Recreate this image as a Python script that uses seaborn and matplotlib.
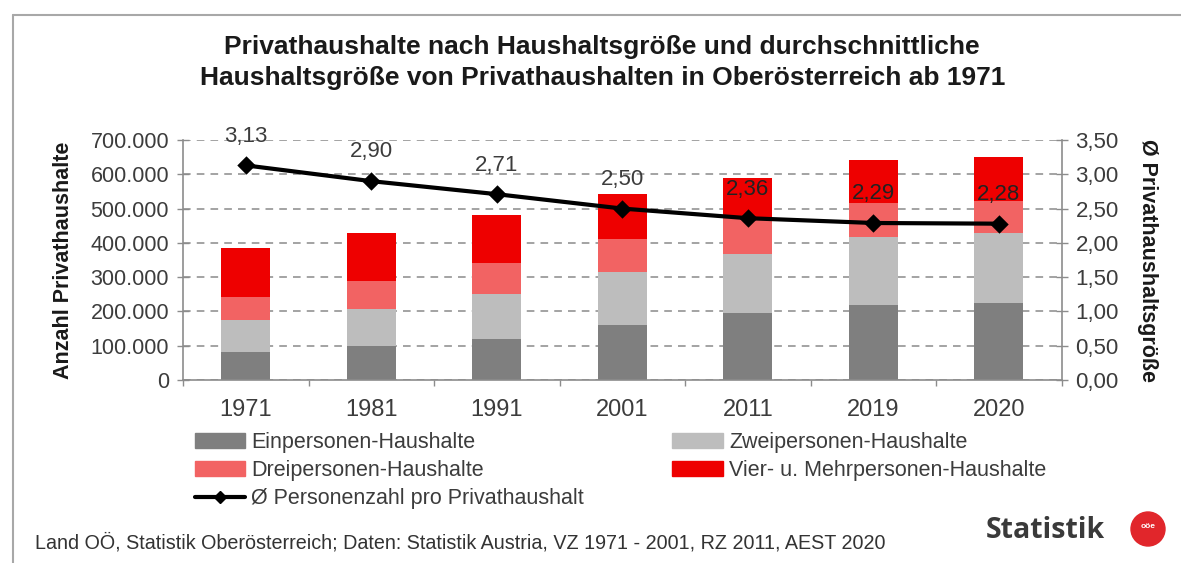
import numpy as np
import pandas as pd
import matplotlib
matplotlib.use("Agg")
import matplotlib.pyplot as plt
import seaborn as sns
from matplotlib.patches import Patch, Ellipse
from matplotlib.lines import Line2D
from matplotlib.ticker import FuncFormatter, MultipleLocator

# ---- data ----
years = ["1971", "1981", "1991", "2001", "2011", "2019", "2020"]
einpersonen = [81000, 100000, 119000, 161000, 195000, 219000, 224000]
zweipersonen = [94000, 108000, 132000, 153000, 174000, 199000, 204000]
dreipersonen = [66000, 82000, 91000, 96000, 107000, 99000, 95000]
vierpersonen = [145000, 140000, 140000, 133000, 112000, 125000, 127000]
avg_size = [3.13, 2.90, 2.71, 2.50, 2.36, 2.29, 2.28]

series_names = ["Einpersonen-Haushalte", "Zweipersonen-Haushalte",
                "Dreipersonen-Haushalte", "Vier- u. Mehrpersonen-Haushalte"]
line_name = "Ø Personenzahl pro Privathaushalt"
colors = ["#7f7f7f", "#bdbdbd", "#f26363", "#ee0000"]

title_lines = ["Privathaushalte nach Haushaltsgröße und durchschnittliche",
               "Haushaltsgröße von Privathaushalten in Oberösterreich ab 1971"]
ylabel_left = "Anzahl Privathaushalte"
ylabel_right = "Ø Privathaushaltsgröße"
source = "Land OÖ, Statistik Oberösterreich; Daten: Statistik Austria, VZ 1971 - 2001, RZ 2011, AEST 2020"

# ---- style ----
sns.set_theme(style="white")
plt.rcParams['font.family'] = ['Liberation Sans', 'DejaVu Sans']
txt = "#3c3c3c"

fig = plt.figure(figsize=(11.81, 5.63), dpi=100)
ax = fig.add_axes([0.155, 0.325, 0.744, 0.4263])

df = pd.DataFrame({"year": years, "ein": einpersonen, "zwei": zweipersonen,
                   "drei": dreipersonen, "vier": vierpersonen})
layers = ["ein", "zwei", "drei", "vier"]
cum = df[layers].cumsum(axis=1)

# draw from tallest cumulative to smallest so stacks appear
for key, col in reversed(list(zip(layers, colors))):
    sns.barplot(x=df["year"], y=cum[key], color=col, ax=ax, width=0.39,
                saturation=1, edgecolor="none", linewidth=0)

ax.set_ylim(0, 700000)
ax.set_xlim(-0.5, 6.5)
ax.yaxis.set_major_locator(MultipleLocator(100000))
ax.yaxis.set_major_formatter(FuncFormatter(lambda v, p: f"{int(v):,}".replace(",", ".")))
ax.grid(axis="y", color="#8a8a8a", linestyle=(0, (5, 4)), linewidth=1.1)
ax.set_axisbelow(True)
ax.set_xlabel("")
ax.set_ylabel(ylabel_left, fontsize=15.5, fontweight="bold", color="#1a1a1a", labelpad=12)

for s in ["top", "right"]:
    ax.spines[s].set_visible(False)
for s in ["left", "bottom"]:
    ax.spines[s].set_color("#8c8c8c")
    ax.spines[s].set_linewidth(1.2)

ax.tick_params(axis="y", which="major", direction="inout", length=8, width=1,
               color="#8c8c8c", labelsize=15.5, labelcolor=txt, pad=6, left=True)
ax.tick_params(axis="x", which="major", length=0, labelsize=17, labelcolor=txt, pad=14)
ax.set_xticks(np.arange(-0.5, 7, 1.0), minor=True)
ax.tick_params(axis="x", which="minor", direction="out", length=4, width=1,
               color="#8c8c8c", bottom=True)

# ---- secondary axis ----
ax2 = ax.twinx()
sns.pointplot(x=years, y=avg_size, ax=ax2, color="black", markers="D",
              markersize=7, linewidth=3, linestyles="-", errorbar=None)
ax2.set_ylim(0, 3.5)
ax2.set_xlim(-0.5, 6.5)
ax2.yaxis.set_major_locator(MultipleLocator(0.5))
ax2.yaxis.set_major_formatter(FuncFormatter(lambda v, p: f"{v:.2f}".replace(".", ",")))
for s in ["top", "left", "bottom"]:
    ax2.spines[s].set_visible(False)
ax2.spines["right"].set_color("#8c8c8c")
ax2.spines["right"].set_linewidth(1.2)
ax2.tick_params(axis="y", direction="inout", length=8, width=1, color="#8c8c8c",
                labelsize=16, labelcolor=txt, pad=6, right=True)
ax2.set_ylabel(ylabel_right, fontsize=15.5, fontweight="bold", color="#1a1a1a",
               rotation=270, labelpad=28)
ax2.grid(False)

for i, v in enumerate(avg_size):
    c = "#222222" if i >= 4 else txt
    ax2.annotate(f"{v:.2f}".replace(".", ","), (i, v), xytext=(0, 21),
                 textcoords="offset points", ha="center", va="center",
                 fontsize=16, color=c)

# ---- title (two lines placed individually) ----
fig.text(0.51, 1 - 47 / 563, title_lines[0], ha="center", va="center", fontsize=19,
         fontweight="bold", color="#1a1a1a")
fig.text(0.51, 1 - 78 / 563, title_lines[1], ha="center", va="center", fontsize=19,
         fontweight="bold", color="#1a1a1a")

# ---- legend ----
handles = [Patch(color=colors[0], label=series_names[0]),
           Patch(color=colors[2], label=series_names[2]),
           Line2D([0], [0], color="black", lw=3, marker="D", markersize=6, label=line_name),
           Patch(color=colors[1], label=series_names[1]),
           Patch(color=colors[3], label=series_names[3])]
fig.legend(handles=handles, ncol=2, loc="upper left", bbox_to_anchor=(0.165, 0.2327),
           frameon=False, fontsize=15.5, handlelength=2.33, handleheight=0.7,
           handletextpad=0.3, columnspacing=4.1, labelspacing=0.33,
           labelcolor=txt, borderaxespad=0, borderpad=0)

# ---- source & logo ----
fig.text(0.03, 0.036, source, fontsize=14.2, color="#333333", va="center", ha="left")
fig.text(0.936, 0.058, "Statistik", fontsize=20.5, fontweight="bold", color="#3a3a3a",
         family=["Open Sans", "DejaVu Sans"], ha="right", va="center")
logo = Ellipse((1148 / 1181, 1 - 529 / 563), 34 / 1181, 34 / 563,
               transform=fig.transFigure, color="#e1262b", zorder=5)
fig.patches.append(logo)
fig.text(1148 / 1181, 1 - 527 / 563, "oöe", fontsize=6, color="white",
         ha="center", va="center", fontweight="bold", zorder=6)

# ---- frame ----
fig.add_artist(Line2D([13 / 1181, 1.0], [1 - 15 / 563, 1 - 15 / 563],
                      transform=fig.transFigure, color="#a8a8a8", lw=1.5))
fig.add_artist(Line2D([13 / 1181, 13 / 1181], [0.0, 1 - 15 / 563],
                      transform=fig.transFigure, color="#a8a8a8", lw=1.5))

fig.savefig("out.png", dpi=100)
